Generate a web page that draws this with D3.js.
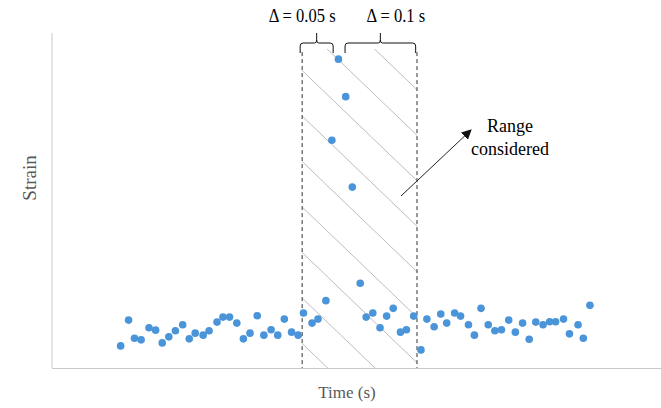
<!DOCTYPE html>
<html>
<head>
<meta charset="utf-8">
<script src="https://cdn.jsdelivr.net/npm/d3@7"></script>
<style>
  body { margin: 0; background: #fff; }
  svg { display: block; font-family: "Liberation Serif", "Times New Roman", serif; }
</style>
</head>
<body>
<div id="chart"></div>
<script>
// sample times (s) and strain (arbitrary units, 0-100)
const times = [0.104, 0.116, 0.125, 0.135, 0.147, 0.157, 0.167, 0.177, 0.187, 0.198,
  0.208, 0.217, 0.229, 0.238, 0.250, 0.259, 0.269, 0.280, 0.290, 0.300,
  0.311, 0.321, 0.332, 0.342, 0.352, 0.363, 0.373, 0.381, 0.394, 0.403,
  0.415, 0.424, 0.434, 0.445, 0.455, 0.467, 0.476, 0.486, 0.497, 0.507,
  0.517, 0.528, 0.537, 0.548, 0.559, 0.568, 0.579, 0.589, 0.598, 0.610,
  0.619, 0.631, 0.640, 0.650, 0.661, 0.671, 0.681, 0.692, 0.702, 0.713,
  0.723, 0.733, 0.744, 0.754, 0.763, 0.775, 0.784, 0.797, 0.805, 0.815];
const strain = [6.6, 14.3, 8.9, 8.4, 12.0, 11.3, 7.5, 9.3, 11.1, 12.9,
  8.7, 10.4, 9.8, 11.1, 13.7, 15.2, 15.2, 13.4, 8.7, 10.4,
  15.6, 9.8, 11.4, 9.8, 14.6, 10.7, 9.8, 16.4, 13.4, 14.6,
  20.1, 68.0, 92.2, 81.0, 54.0, 25.3, 15.2, 16.4, 12.0, 15.5,
  17.8, 10.7, 11.4, 15.5, 5.4, 14.6, 12.3, 16.1, 13.4, 16.4,
  15.5, 12.9, 9.8, 17.8, 12.9, 11.1, 11.4, 14.3, 10.7, 13.4,
  8.6, 13.7, 12.9, 13.8, 13.8, 14.6, 10.2, 12.9, 8.9, 18.7];

// window considered and the two brace spans (s)
const rangeWindow = [0.379, 0.553];
const braces = [
  { label: "\u0394 = 0.05 s", from: 0.376, to: 0.426, textX: 0.379 },
  { label: "\u0394 = 0.1 s", from: 0.444, to: 0.551, textX: 0.521 }
];
const windowTop = 95.2;

const W = 661, H = 408;
const svg = d3.select("#chart").append("svg")
  .attr("width", W).attr("height", H);

const x = d3.scaleLinear().domain([0, 0.9227]).range([52, 661]);
const y = d3.scaleLinear().domain([0, 100]).range([368, 33]);

// axes (no ticks)
svg.append("line")
  .attr("x1", x(0)).attr("x2", x(0))
  .attr("y1", y(100)).attr("y2", y(0))
  .attr("stroke", "#c8c8c8").attr("stroke-width", 1);
svg.append("line")
  .attr("x1", x(0)).attr("x2", x(0.9227))
  .attr("y1", y(0) + 0.5).attr("y2", y(0) + 0.5)
  .attr("stroke", "#c8c8c8").attr("stroke-width", 1);

// hatched window
const wx0 = x(rangeWindow[0]), wx1 = x(rangeWindow[1]);
const wy0 = y(windowTop), wy1 = y(0);
svg.append("clipPath").attr("id", "win")
  .append("rect")
  .attr("x", wx0).attr("y", wy0)
  .attr("width", wx1 - wx0).attr("height", wy1 - wy0);

const slope = 0.96, gap = 45.5;
const hatch = d3.range(-2, 9).map(k => 25 + k * gap);
svg.append("g").attr("clip-path", "url(#win)")
  .selectAll("line").data(hatch).join("line")
  .attr("x1", wx0).attr("y1", d => d)
  .attr("x2", wx1).attr("y2", d => d + slope * (wx1 - wx0))
  .attr("stroke", "#bdbdbd").attr("stroke-width", 1);

svg.selectAll(".edge").data(rangeWindow).join("line")
  .attr("class", "edge")
  .attr("x1", d => x(d)).attr("x2", d => x(d))
  .attr("y1", wy0 + 3).attr("y2", wy1)
  .attr("stroke", "#333").attr("stroke-width", 1)
  .attr("stroke-dasharray", "4,3");

// braces + labels
const by = 43;
braces.forEach(b => {
  const a = x(b.from), c = x(b.to), m = (a + c) / 2;
  svg.append("path")
    .attr("d", `M${a},${by + 10} V${by + 3} Q${a},${by} ${a + 3},${by} H${m - 2} Q${m},${by} ${m},${by - 3} V${by - 10}` +
      ` M${m},${by - 3} Q${m},${by} ${m + 2},${by} H${c - 3} Q${c},${by} ${c},${by + 3} V${by + 10}`)
    .attr("fill", "none").attr("stroke", "#111").attr("stroke-width", 1);
  svg.append("text")
    .attr("transform", `translate(${x(b.textX)},22) scale(0.92,1.1)`)
    .attr("text-anchor", "middle")
    .style("font-size", "18px").attr("fill", "#000")
    .text(b.label);
});

// points
svg.append("g").selectAll("circle")
  .data(times.map((t, i) => ({ t, s: strain[i] })))
  .join("circle")
  .attr("cx", d => x(d.t)).attr("cy", d => y(d.s))
  .attr("r", 3.8)
  .attr("fill", "#4a94d9");

// arrow annotation
svg.append("defs").append("marker")
  .attr("id", "arr").attr("viewBox", "0 0 10 10")
  .attr("refX", 9).attr("refY", 5)
  .attr("markerWidth", 10).attr("markerHeight", 10)
  .attr("markerUnits", "userSpaceOnUse")
  .attr("orient", "auto")
  .append("path").attr("d", "M0,0 L10,5 L0,10 Z").attr("fill", "#111");
svg.append("line")
  .attr("x1", 401).attr("y1", 196)
  .attr("x2", 471).attr("y2", 130)
  .attr("stroke", "#222").attr("stroke-width", 1)
  .attr("marker-end", "url(#arr)");

svg.append("text")
  .attr("x", 510).attr("y", 132)
  .attr("text-anchor", "middle")
  .style("font-size", "18px")
  .selectAll("tspan").data(["Range", "considered"]).join("tspan")
  .attr("x", 510).attr("dy", (d, i) => i ? 23 : 0)
  .text(d => d);

// axis titles
svg.append("text")
  .attr("x", 347).attr("y", 398)
  .attr("text-anchor", "middle")
  .style("font-size", "17px").attr("fill", "#595959")
  .text("Time (s)");
svg.append("text")
  .attr("transform", "translate(36,178) rotate(-90)")
  .attr("text-anchor", "middle")
  .style("font-size", "19px").attr("fill", "#595959")
  .text("Strain");
</script>
</body>
</html>
